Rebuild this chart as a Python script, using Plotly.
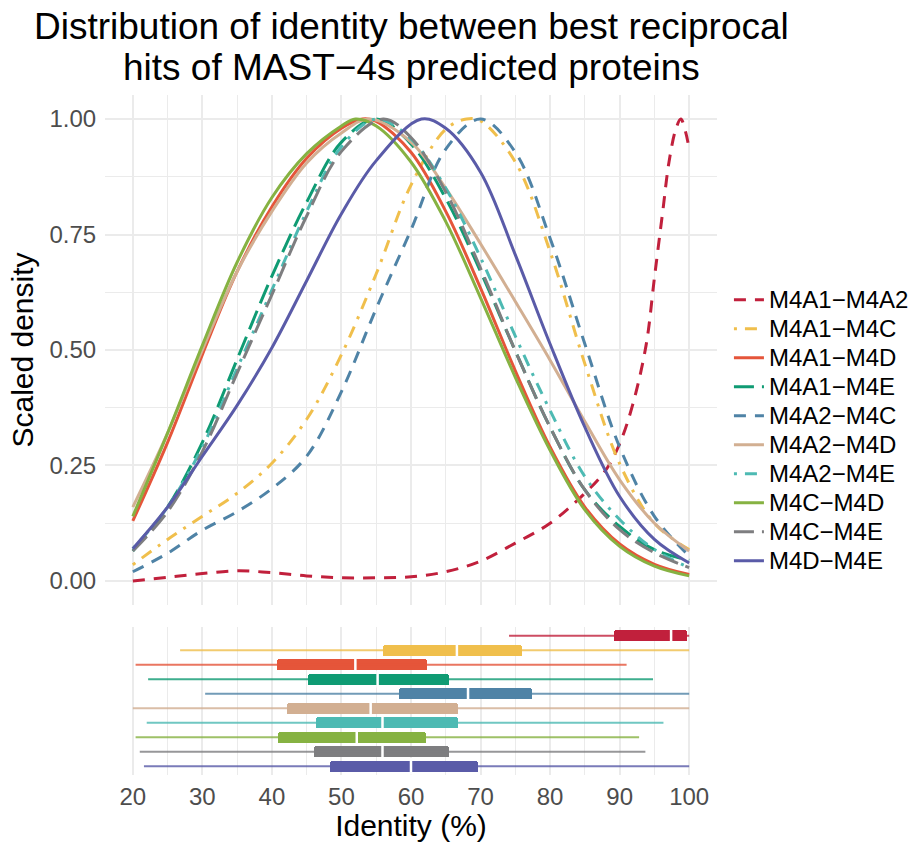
import plotly.graph_objects as go
from plotly.subplots import make_subplots

series = ["M4A1−M4A2", "M4A1−M4C", "M4A1−M4D", "M4A1−M4E", "M4A2−M4C",
          "M4A2−M4D", "M4A2−M4E", "M4C−M4D", "M4C−M4E", "M4D−M4E"]
colors = ["#C1203C", "#F0BF4C", "#E5553A", "#0F9B73", "#4F83A6",
          "#D2AF92", "#4DBAB3", "#86B242", "#7E7E80", "#5A5BA8"]
dashes = ["12px,9px", "3px,8px,12px,8px", "solid", "20px,8px", "12px,9px",
          "solid", "3px,8px,12px,8px", "solid", "20px,8px", "solid"]

# density curves (scaled)
G = [20, 25, 30, 35, 40, 45, 50, 55, 60, 65, 70, 75, 80, 85, 90, 95, 100]
dens_x = {
    "M4A1−M4A2": [20, 25, 30, 35, 40, 45, 50, 55, 60, 65, 70, 75, 80, 85, 88, 90, 91.85, 93.8, 95, 96.2, 97.1, 98.1, 98.8, 99.5, 100],
    "M4A1−M4C": [20, 25, 30, 35, 40, 45, 50, 55, 60, 65, 68, 70, 75, 80, 85, 90, 95, 100],
    "M4A1−M4D": [20, 25, 30, 35, 40, 45, 50, 53, 55, 60, 65, 70, 75, 80, 85, 90, 95, 100],
    "M4A1−M4E": G,
    "M4A2−M4C": G,
    "M4A2−M4D": [20, 25, 30, 35, 40, 45, 50, 54, 60, 65, 70, 75, 80, 85, 90, 95, 100],
    "M4A2−M4E": G,
    "M4C−M4D": [20, 25, 30, 35, 40, 45, 50, 52, 55, 60, 65, 70, 75, 80, 85, 90, 95, 100],
    "M4C−M4E": [20, 25, 30, 35, 40, 45, 50, 56, 60, 65, 70, 75, 80, 85, 90, 95, 100],
    "M4D−M4E": [20, 25, 30, 35, 40, 45, 50, 55, 61.5, 65, 70, 75, 80, 85, 90, 95, 100],
}
dens_y = {
    "M4A1−M4A2": [0.0, 0.008, 0.016, 0.022, 0.018, 0.011, 0.007, 0.007, 0.009, 0.02, 0.043, 0.082, 0.125, 0.19, 0.24, 0.297, 0.38, 0.51, 0.656, 0.8, 0.907, 0.979, 1.0, 0.971, 0.935],
    "M4A1−M4C": [0.035, 0.09, 0.14, 0.19, 0.255, 0.35, 0.49, 0.665, 0.857, 0.978, 1.0, 0.996, 0.907, 0.713, 0.47, 0.254, 0.125, 0.068],
    "M4A1−M4D": [0.13, 0.30, 0.49, 0.67, 0.81, 0.915, 0.98, 1.0, 0.995, 0.928, 0.80, 0.634, 0.455, 0.29, 0.16, 0.08, 0.036, 0.014],
    "M4A1−M4E": [0.065, 0.16, 0.30, 0.48, 0.66, 0.82, 0.95, 1.0, 0.946, 0.828, 0.67, 0.498, 0.333, 0.197, 0.118, 0.068, 0.045],
    "M4A2−M4C": [0.02, 0.06, 0.11, 0.15, 0.20, 0.27, 0.41, 0.59, 0.76, 0.935, 1.0, 0.928, 0.742, 0.513, 0.29, 0.14, 0.054],
    "M4A2−M4D": [0.16, 0.32, 0.50, 0.67, 0.80, 0.905, 0.97, 1.0, 0.95, 0.85, 0.73, 0.605, 0.478, 0.345, 0.219, 0.125, 0.065],
    "M4A2−M4E": [0.07, 0.16, 0.29, 0.46, 0.63, 0.80, 0.94, 1.0, 0.957, 0.85, 0.70, 0.53, 0.369, 0.226, 0.133, 0.068, 0.029],
    "M4C−M4D": [0.14, 0.32, 0.51, 0.69, 0.83, 0.925, 0.985, 1.0, 0.985, 0.907, 0.778, 0.613, 0.441, 0.283, 0.154, 0.075, 0.032, 0.011],
    "M4C−M4E": [0.065, 0.15, 0.28, 0.45, 0.62, 0.79, 0.93, 1.0, 0.96, 0.842, 0.677, 0.498, 0.333, 0.197, 0.111, 0.061, 0.029],
    "M4D−M4E": [0.07, 0.16, 0.27, 0.38, 0.505, 0.65, 0.795, 0.91, 1.0, 0.98, 0.885, 0.706, 0.513, 0.333, 0.183, 0.09, 0.039],
}

# box summaries
w_lo = [74.1, 26.8, 20.4, 22.2, 30.4, 20.0, 22.0, 20.4, 21.0, 21.6]
q1 = [89.2, 56.0, 40.8, 45.2, 58.3, 42.1, 46.3, 40.9, 46.0, 48.3]
med = [97.4, 66.6, 52.0, 55.2, 68.2, 54.2, 55.9, 52.2, 55.9, 60.0]
q3 = [99.7, 76.0, 62.3, 65.4, 77.4, 66.8, 66.7, 62.2, 65.5, 69.6]
w_hi = [100.0, 100.0, 91.0, 94.8, 100.0, 100.0, 96.3, 92.8, 93.7, 100.0]

x_ticks = [20, 30, 40, 50, 60, 70, 80, 90, 100]
y_ticks = [0, 0.25, 0.5, 0.75, 1.0]

FONT = "Liberation Sans, Arial, sans-serif"
GRID = "#EBEBEB"

fig = make_subplots(rows=2, cols=1, shared_xaxes=True)

for i, s in enumerate(series):
    fig.add_trace(go.Scatter(
        x=dens_x[s], y=dens_y[s], mode="lines",
        name=f"<span style='font-size:24px'>{s}</span>",
        line=dict(color=colors[i], width=3, dash=dashes[i], shape="spline", smoothing=1.0),
        showlegend=True), row=1, col=1)

# whiskers
for i, s in enumerate(series):
    fig.add_trace(go.Scatter(
        x=[w_lo[i], w_hi[i]], y=[s, s], mode="lines",
        line=dict(color=colors[i], width=2), opacity=0.8,
        showlegend=False, hoverinfo="skip"), row=2, col=1)

# IQR boxes
fig.add_trace(go.Bar(
    y=series, x=[b - a for a, b in zip(q1, q3)], base=q1, orientation="h",
    width=0.75, marker=dict(color=colors, line=dict(width=0), cornerradius=2),
    showlegend=False), row=2, col=1)

# medians
fig.add_trace(go.Scatter(
    x=med, y=series, mode="markers",
    marker=dict(symbol="line-ns", size=12, line=dict(color="white", width=2.5)),
    showlegend=False, hoverinfo="skip"), row=2, col=1)

common_x = dict(range=[16, 104], tickvals=x_ticks, showgrid=True, gridcolor=GRID,
                gridwidth=2, zeroline=False, showline=False, automargin=False,
                minor=dict(dtick=5, tick0=0, showgrid=True, gridcolor=GRID, gridwidth=1.3))

fig.update_layout(
    width=918, height=842,
    paper_bgcolor="white", plot_bgcolor="white",
    font=dict(family=FONT, color="#000000"),
    margin=dict(l=105, r=201, t=95, b=67, autoexpand=False),
    bargap=0,
    xaxis=dict(common_x, showticklabels=False, matches="x2"),
    xaxis2=dict(common_x, showticklabels=True, ticks="outside", ticklen=0,
                tickcolor="rgba(0,0,0,0)",
                tickfont=dict(size=24, color="#4D4D4D", family=FONT),
                title=dict(text="Identity (%)", font=dict(size=30, color="#000000", family=FONT), standoff=5)),
    yaxis=dict(domain=[0.25, 1.0], range=[-0.052, 1.052], tickvals=y_ticks, tickformat=".2f",
               showgrid=True, gridcolor=GRID, gridwidth=2, zeroline=False, showline=False,
               automargin=False,
               ticks="outside", ticklen=3, tickcolor="rgba(0,0,0,0)",
               tickfont=dict(size=24, color="#4D4D4D", family=FONT),
               minor=dict(dtick=0.125, tick0=0, showgrid=True, gridcolor=GRID, gridwidth=1.3),
               title=dict(text="Scaled density", font=dict(size=30, color="#000000", family=FONT), standoff=6)),
    yaxis2=dict(domain=[0.0, 0.2176], type="category", categoryorder="array",
                categoryarray=series[::-1], range=[-0.6, 9.6], automargin=False,
                showgrid=False, zeroline=False, showline=False, showticklabels=False),
    legend=dict(x=1.0195, xanchor="left", y=0.507, yanchor="middle",
                font=dict(size=20, family=FONT, color="#000000"),
                bgcolor="rgba(0,0,0,0)", borderwidth=0, tracegroupgap=0),
    showlegend=True,
    annotations=[
        dict(text="Distribution of identity between best reciprocal", xref="paper", yref="paper",
             x=0.5, y=(775 - 27) / 680, xanchor="center", yanchor="middle", showarrow=False,
             font=dict(size=37, family=FONT, color="#000000")),
        dict(text="hits of MAST−4s predicted proteins", xref="paper", yref="paper",
             x=0.5, y=(775 - 68) / 680, xanchor="center", yanchor="middle", showarrow=False,
             font=dict(size=37, family=FONT, color="#000000")),
    ],
)

fig.write_html("out.html", config={"displayModeBar": False},
               post_script="document.body.style.margin='0';")
